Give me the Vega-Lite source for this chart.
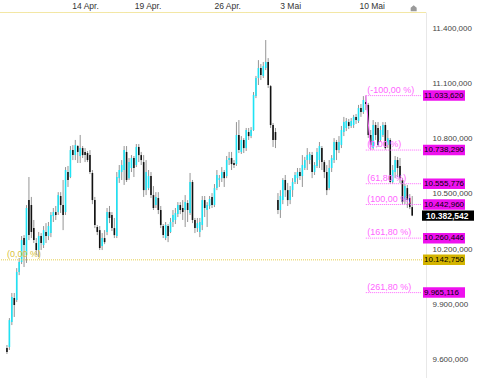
{
  "$schema": "https://vega.github.io/schema/vega-lite/v6.json",
  "width": 426,
  "height": 366,
  "autosize": "none",
  "padding": {"left": 0, "top": 12, "right": 53, "bottom": 0},
  "background": "white",
  "config": {
    "view": {"stroke": null},
    "font": "Liberation Sans",
    "locale": {"number": {"decimal": ",", "thousands": ".", "grouping": [3], "currency": ["", " €"]}}
  },
  "datasets": {
    "bars": [
      {"i":0,"o":9665,"h":9681,"l":9632,"c":9643},
      {"i":1,"o":9670,"h":9827,"l":9654,"c":9816},
      {"i":2,"o":9806,"h":9963,"l":9789,"c":9941},
      {"i":3,"o":9936,"h":9963,"l":9833,"c":9898},
      {"i":4,"o":9925,"h":10098,"l":9914,"c":10077},
      {"i":5,"o":10077,"h":10153,"l":10060,"c":10131},
      {"i":6,"o":10131,"h":10272,"l":10120,"c":10250},
      {"i":7,"o":10261,"h":10277,"l":10104,"c":10223},
      {"i":8,"o":10169,"h":10440,"l":10126,"c":10424},
      {"i":9,"o":10467,"h":10592,"l":10250,"c":10277},
      {"i":10,"o":10440,"h":10484,"l":10261,"c":10294},
      {"i":11,"o":10315,"h":10359,"l":10234,"c":10250},
      {"i":12,"o":10234,"h":10261,"l":10169,"c":10196},
      {"i":13,"o":10196,"h":10294,"l":10158,"c":10272},
      {"i":14,"o":10272,"h":10288,"l":10196,"c":10234},
      {"i":15,"o":10223,"h":10326,"l":10207,"c":10304},
      {"i":16,"o":10294,"h":10342,"l":10234,"c":10272},
      {"i":17,"o":10272,"h":10348,"l":10250,"c":10326},
      {"i":18,"o":10288,"h":10402,"l":10266,"c":10386},
      {"i":19,"o":10380,"h":10424,"l":10348,"c":10402},
      {"i":20,"o":10402,"h":10435,"l":10359,"c":10386},
      {"i":21,"o":10402,"h":10510,"l":10386,"c":10494},
      {"i":22,"o":10489,"h":10510,"l":10397,"c":10440},
      {"i":23,"o":10440,"h":10576,"l":10304,"c":10386},
      {"i":24,"o":10402,"h":10646,"l":10386,"c":10630},
      {"i":25,"o":10619,"h":10652,"l":10538,"c":10576},
      {"i":26,"o":10592,"h":10760,"l":10586,"c":10738},
      {"i":27,"o":10738,"h":10765,"l":10684,"c":10711},
      {"i":28,"o":10711,"h":10793,"l":10684,"c":10765},
      {"i":29,"o":10760,"h":10765,"l":10668,"c":10728},
      {"i":30,"o":10706,"h":10820,"l":10668,"c":10749},
      {"i":31,"o":10749,"h":10760,"l":10695,"c":10711},
      {"i":32,"o":10728,"h":10749,"l":10673,"c":10711},
      {"i":33,"o":10722,"h":10733,"l":10673,"c":10684},
      {"i":34,"o":10711,"h":10738,"l":10608,"c":10619},
      {"i":35,"o":10614,"h":10630,"l":10445,"c":10467},
      {"i":36,"o":10467,"h":10484,"l":10315,"c":10332},
      {"i":37,"o":10321,"h":10332,"l":10277,"c":10294},
      {"i":38,"o":10304,"h":10326,"l":10196,"c":10207},
      {"i":39,"o":10218,"h":10288,"l":10196,"c":10261},
      {"i":40,"o":10261,"h":10304,"l":10228,"c":10239},
      {"i":41,"o":10294,"h":10424,"l":10277,"c":10402},
      {"i":42,"o":10402,"h":10435,"l":10342,"c":10370},
      {"i":43,"o":10386,"h":10402,"l":10299,"c":10315},
      {"i":44,"o":10315,"h":10370,"l":10261,"c":10277},
      {"i":45,"o":10272,"h":10619,"l":10261,"c":10592},
      {"i":46,"o":10586,"h":10657,"l":10560,"c":10630},
      {"i":47,"o":10619,"h":10684,"l":10576,"c":10657},
      {"i":48,"o":10630,"h":10760,"l":10549,"c":10738},
      {"i":49,"o":10728,"h":10760,"l":10565,"c":10576},
      {"i":50,"o":10586,"h":10695,"l":10576,"c":10673},
      {"i":51,"o":10641,"h":10711,"l":10619,"c":10695},
      {"i":52,"o":10695,"h":10706,"l":10592,"c":10641},
      {"i":53,"o":10657,"h":10771,"l":10646,"c":10755},
      {"i":54,"o":10755,"h":10771,"l":10673,"c":10711},
      {"i":55,"o":10711,"h":10728,"l":10657,"c":10684},
      {"i":56,"o":10673,"h":10711,"l":10484,"c":10521},
      {"i":57,"o":10521,"h":10684,"l":10494,"c":10619},
      {"i":58,"o":10532,"h":10630,"l":10521,"c":10597},
      {"i":59,"o":10597,"h":10619,"l":10478,"c":10494},
      {"i":60,"o":10494,"h":10543,"l":10413,"c":10424},
      {"i":61,"o":10440,"h":10510,"l":10424,"c":10484},
      {"i":62,"o":10478,"h":10510,"l":10391,"c":10413},
      {"i":63,"o":10413,"h":10435,"l":10315,"c":10332},
      {"i":64,"o":10326,"h":10337,"l":10261,"c":10277},
      {"i":65,"o":10261,"h":10348,"l":10250,"c":10332},
      {"i":66,"o":10326,"h":10337,"l":10239,"c":10272},
      {"i":67,"o":10294,"h":10370,"l":10288,"c":10348},
      {"i":68,"o":10348,"h":10413,"l":10321,"c":10386},
      {"i":69,"o":10359,"h":10424,"l":10337,"c":10397},
      {"i":70,"o":10391,"h":10456,"l":10375,"c":10440},
      {"i":71,"o":10440,"h":10456,"l":10391,"c":10413},
      {"i":72,"o":10424,"h":10467,"l":10359,"c":10402},
      {"i":73,"o":10413,"h":10494,"l":10321,"c":10456},
      {"i":74,"o":10451,"h":10467,"l":10348,"c":10413},
      {"i":75,"o":10397,"h":10614,"l":10386,"c":10565},
      {"i":76,"o":10565,"h":10576,"l":10342,"c":10359},
      {"i":77,"o":10359,"h":10370,"l":10288,"c":10315},
      {"i":78,"o":10315,"h":10370,"l":10294,"c":10342},
      {"i":79,"o":10294,"h":10370,"l":10266,"c":10348},
      {"i":80,"o":10332,"h":10489,"l":10304,"c":10467},
      {"i":81,"o":10467,"h":10489,"l":10375,"c":10424},
      {"i":82,"o":10413,"h":10456,"l":10321,"c":10440},
      {"i":83,"o":10435,"h":10489,"l":10418,"c":10473},
      {"i":84,"o":10484,"h":10505,"l":10424,"c":10440},
      {"i":85,"o":10440,"h":10554,"l":10429,"c":10532},
      {"i":86,"o":10532,"h":10630,"l":10521,"c":10603},
      {"i":87,"o":10576,"h":10603,"l":10538,"c":10586},
      {"i":88,"o":10586,"h":10646,"l":10565,"c":10619},
      {"i":89,"o":10619,"h":10630,"l":10538,"c":10586},
      {"i":90,"o":10597,"h":10706,"l":10586,"c":10684},
      {"i":91,"o":10684,"h":10728,"l":10657,"c":10695},
      {"i":92,"o":10695,"h":10728,"l":10630,"c":10662},
      {"i":93,"o":10668,"h":10684,"l":10641,"c":10657},
      {"i":94,"o":10662,"h":10890,"l":10652,"c":10820},
      {"i":95,"o":10820,"h":10901,"l":10722,"c":10738},
      {"i":96,"o":10728,"h":10814,"l":10717,"c":10793},
      {"i":97,"o":10793,"h":10803,"l":10722,"c":10749},
      {"i":98,"o":10749,"h":10858,"l":10733,"c":10847},
      {"i":99,"o":10836,"h":10858,"l":10793,"c":10814},
      {"i":100,"o":10814,"h":10863,"l":10803,"c":10847},
      {"i":101,"o":10847,"h":11053,"l":10842,"c":11037},
      {"i":102,"o":11031,"h":11140,"l":11020,"c":11129},
      {"i":103,"o":11129,"h":11226,"l":11091,"c":11183},
      {"i":104,"o":11183,"h":11205,"l":11118,"c":11145},
      {"i":105,"o":11140,"h":11216,"l":11129,"c":11194},
      {"i":106,"o":11183,"h":11335,"l":11172,"c":11216},
      {"i":107,"o":11216,"h":11237,"l":11075,"c":11091},
      {"i":108,"o":11085,"h":11091,"l":10858,"c":10874},
      {"i":109,"o":10874,"h":10885,"l":10755,"c":10793},
      {"i":110,"o":10836,"h":10858,"l":10749,"c":10793},
      {"i":111,"o":10467,"h":10505,"l":10391,"c":10413},
      {"i":112,"o":10413,"h":10521,"l":10370,"c":10489},
      {"i":113,"o":10467,"h":10586,"l":10445,"c":10576},
      {"i":114,"o":10576,"h":10603,"l":10484,"c":10521},
      {"i":115,"o":10521,"h":10560,"l":10435,"c":10467},
      {"i":116,"o":10467,"h":10543,"l":10445,"c":10521},
      {"i":117,"o":10521,"h":10586,"l":10484,"c":10565},
      {"i":118,"o":10565,"h":10619,"l":10554,"c":10603},
      {"i":119,"o":10586,"h":10641,"l":10554,"c":10619},
      {"i":120,"o":10619,"h":10641,"l":10576,"c":10597},
      {"i":121,"o":10597,"h":10711,"l":10538,"c":10657},
      {"i":122,"o":10641,"h":10701,"l":10630,"c":10684},
      {"i":123,"o":10684,"h":10749,"l":10630,"c":10711},
      {"i":124,"o":10684,"h":10728,"l":10662,"c":10717},
      {"i":125,"o":10711,"h":10728,"l":10586,"c":10619},
      {"i":126,"o":10619,"h":10673,"l":10603,"c":10657},
      {"i":127,"o":10652,"h":10749,"l":10641,"c":10728},
      {"i":128,"o":10684,"h":10782,"l":10641,"c":10760},
      {"i":129,"o":10749,"h":10760,"l":10630,"c":10673},
      {"i":130,"o":10673,"h":10684,"l":10586,"c":10619},
      {"i":131,"o":10619,"h":10657,"l":10494,"c":10521},
      {"i":132,"o":10532,"h":10684,"l":10521,"c":10641},
      {"i":133,"o":10641,"h":10711,"l":10619,"c":10695},
      {"i":134,"o":10684,"h":10803,"l":10668,"c":10782},
      {"i":135,"o":10782,"h":10793,"l":10684,"c":10738},
      {"i":136,"o":10738,"h":10814,"l":10722,"c":10782},
      {"i":137,"o":10766,"h":10869,"l":10749,"c":10847},
      {"i":138,"o":10836,"h":10918,"l":10814,"c":10890},
      {"i":139,"o":10858,"h":10912,"l":10841,"c":10896},
      {"i":140,"o":10890,"h":10907,"l":10852,"c":10869},
      {"i":141,"o":10869,"h":10912,"l":10858,"c":10896},
      {"i":142,"o":10874,"h":10929,"l":10858,"c":10918},
      {"i":143,"o":10918,"h":10934,"l":10880,"c":10901},
      {"i":144,"o":10896,"h":10983,"l":10885,"c":10966},
      {"i":145,"o":10966,"h":10988,"l":10918,"c":10945},
      {"i":146,"o":10945,"h":11031,"l":10934,"c":11010},
      {"i":147,"o":10999,"h":11033.62,"l":10955,"c":10988},
      {"i":148,"o":10983,"h":10994,"l":10804,"c":10820},
      {"i":149,"o":10820,"h":10847,"l":10738.29,"c":10766},
      {"i":150,"o":10749,"h":10901,"l":10740,"c":10874},
      {"i":151,"o":10874,"h":10890,"l":10793,"c":10820},
      {"i":152,"o":10858,"h":10890,"l":10755,"c":10766},
      {"i":153,"o":10793,"h":10869,"l":10782,"c":10847},
      {"i":154,"o":10820,"h":10890,"l":10809,"c":10874},
      {"i":155,"o":10874,"h":10890,"l":10740,"c":10749},
      {"i":156,"o":10766,"h":10847,"l":10749,"c":10803},
      {"i":157,"o":10793,"h":10803,"l":10556,"c":10565},
      {"i":158,"o":10565,"h":10657,"l":10556,"c":10630},
      {"i":159,"o":10619,"h":10706,"l":10586,"c":10684},
      {"i":160,"o":10684,"h":10701,"l":10592,"c":10641},
      {"i":161,"o":10652,"h":10695,"l":10560,"c":10586},
      {"i":162,"o":10576,"h":10586,"l":10442.96,"c":10456},
      {"i":163,"o":10467,"h":10554,"l":10445,"c":10543},
      {"i":164,"o":10532,"h":10549,"l":10424,"c":10467},
      {"i":165,"o":10478,"h":10500,"l":10418,"c":10429},
      {"i":166,"o":10429,"h":10489,"l":10380,"c":10383}
    ],
    "fib": [
      {"lab": "(-100,00 %)", "v": 11033.62},
      {"lab": "(0,00 %)", "v": 10738.29},
      {"lab": "(61,80 %)", "v": 10555.776},
      {"lab": "(100,00 %)", "v": 10442.96},
      {"lab": "(161,80 %)", "v": 10260.446},
      {"lab": "(261,80 %)", "v": 9965.116}
    ],
    "tags": [
      {"v": 11033.62, "kind": "fib"},
      {"v": 10738.29, "kind": "fib"},
      {"v": 10555.776, "kind": "fib"},
      {"v": 10442.96, "kind": "fib"},
      {"v": 10260.446, "kind": "fib"},
      {"v": 9965.116, "kind": "fib"},
      {"v": 10142.75, "kind": "base"}
    ],
    "last": [{"v": 10382.542}],
    "diag": [{"i": 147, "v": 11033.62}, {"i": 149, "v": 10738.29}]
  },
  "layer": [
    {
      "data": {"name": "bars"},
      "mark": {"type": "rule", "color": "#959595", "strokeWidth": 1},
      "encoding": {
        "x": {"field": "i", "type": "quantitative",
          "scale": {"domain": [-0.8, 169.6], "nice": false, "zero": false},
          "axis": {"orient": "top", "title": null, "grid": false, "ticks": false,
            "values": [32, 57.6, 90.2, 116, 149.4],
            "labelExpr": "datum.value == 32 ? '14 Apr.' : datum.value == 57.6 ? '19 Apr.' : datum.value == 90.2 ? '26 Apr.' : datum.value == 116 ? '3 Mai' : '10 Mai'",
            "labelFontSize": 8.5, "labelColor": "#333", "labelPadding": 2,
            "domainColor": "#e6cf4a", "domainDash": [1, 1], "domainWidth": 1}},
        "y": {"field": "l", "type": "quantitative",
          "scale": {"domain": [9502, 11487], "nice": false, "zero": false},
          "axis": {"orient": "right", "title": null, "grid": false, "ticks": false,
            "values": [9600, 9900, 10200, 10500, 10800, 11100, 11400],
            "format": ",.3f", "labelFontSize": 8, "labelColor": "#444",
            "labelAlign": "left", "labelPadding": 6,
            "domainColor": "#e8e8e8"}},
        "y2": {"field": "h"}
      }
    },
    {
      "data": {"name": "bars"},
      "mark": {"type": "bar", "width": 1.6},
      "encoding": {
        "x": {"field": "i", "type": "quantitative"},
        "y": {"field": "o", "type": "quantitative"},
        "y2": {"field": "c"},
        "color": {"condition": {"test": "datum.c >= datum.o", "value": "#1ee3f5"}, "value": "#111111"}
      }
    },
    {
      "data": {"values": [{"v": 10142.75, "lab": "(0,00 %)"}]},
      "mark": {"type": "rule", "color": "#e6cf4a", "strokeDash": [1, 1], "strokeWidth": 1},
      "encoding": {"y": {"field": "v", "type": "quantitative"}}
    },
    {
      "data": {"values": [{"v": 10142.75, "lab": "(0,00 %)"}]},
      "mark": {"type": "text", "align": "left", "baseline": "bottom", "dy": -1, "fontSize": 9, "color": "#d9c23a"},
      "encoding": {"x": {"datum": 0}, "y": {"field": "v", "type": "quantitative"}, "text": {"field": "lab"}}
    },
    {
      "data": {"name": "fib"},
      "mark": {"type": "rule", "color": "#ff66ff", "strokeDash": [1, 1], "strokeWidth": 1},
      "encoding": {"x": {"datum": 147}, "x2": {"datum": 169.6}, "y": {"field": "v", "type": "quantitative"}}
    },
    {
      "data": {"name": "fib"},
      "mark": {"type": "text", "align": "left", "baseline": "bottom", "dy": -1, "fontSize": 9, "color": "#ff66ff"},
      "encoding": {"x": {"datum": 147.6}, "y": {"field": "v", "type": "quantitative"}, "text": {"field": "lab"}}
    },
    {
      "data": {"name": "diag"},
      "mark": {"type": "line", "color": "#ff66ff", "strokeWidth": 1},
      "encoding": {"x": {"field": "i", "type": "quantitative"}, "y": {"field": "v", "type": "quantitative"}}
    },
    {
      "data": {"name": "tags"},
      "mark": {"type": "point", "shape": "M0,-0.25H2V0.25H0Z", "size": 1764, "filled": true, "opacity": 1, "strokeWidth": 0, "xOffset": 2},
      "encoding": {
        "x": {"datum": 169.6},
        "y": {"field": "v", "type": "quantitative"},
        "color": {"field": "kind", "type": "nominal", "scale": {"domain": ["fib", "base"], "range": ["#ee11ee", "#d4b400"]}, "legend": null}
      }
    },
    {
      "data": {"name": "tags"},
      "mark": {"type": "text", "align": "left", "baseline": "middle", "fontSize": 8, "color": "#000", "dx": 3},
      "encoding": {
        "x": {"datum": 169.6},
        "y": {"field": "v", "type": "quantitative"},
        "text": {"field": "v", "type": "quantitative", "format": ",.3f"}
      }
    },
    {
      "data": {"name": "last"},
      "mark": {"type": "point", "shape": "M0,-0.2H2V0.2H0Z", "size": 2704, "filled": true, "opacity": 1, "strokeWidth": 0, "color": "#000", "xOffset": 1},
      "encoding": {"x": {"datum": 169.6}, "y": {"field": "v", "type": "quantitative"}}
    },
    {
      "data": {"name": "last"},
      "mark": {"type": "text", "align": "left", "baseline": "middle", "fontSize": 8.5, "fontWeight": "bold", "color": "#fff", "dx": 5},
      "encoding": {
        "x": {"datum": 169.6},
        "y": {"field": "v", "type": "quantitative"},
        "text": {"field": "v", "type": "quantitative", "format": ",.3f"}
      }
    },
    {
      "data": {"values": [{"v": 11508}]},
      "mark": {"type": "point", "shape": "M-1,1L-1,-0.1L0,-1L1,-0.1L1,1Z", "size": 36, "filled": true, "opacity": 1, "color": "#9a9a9a", "strokeWidth": 0},
      "encoding": {"x": {"datum": 166.6}, "y": {"field": "v", "type": "quantitative"}}
    }
  ]
}
